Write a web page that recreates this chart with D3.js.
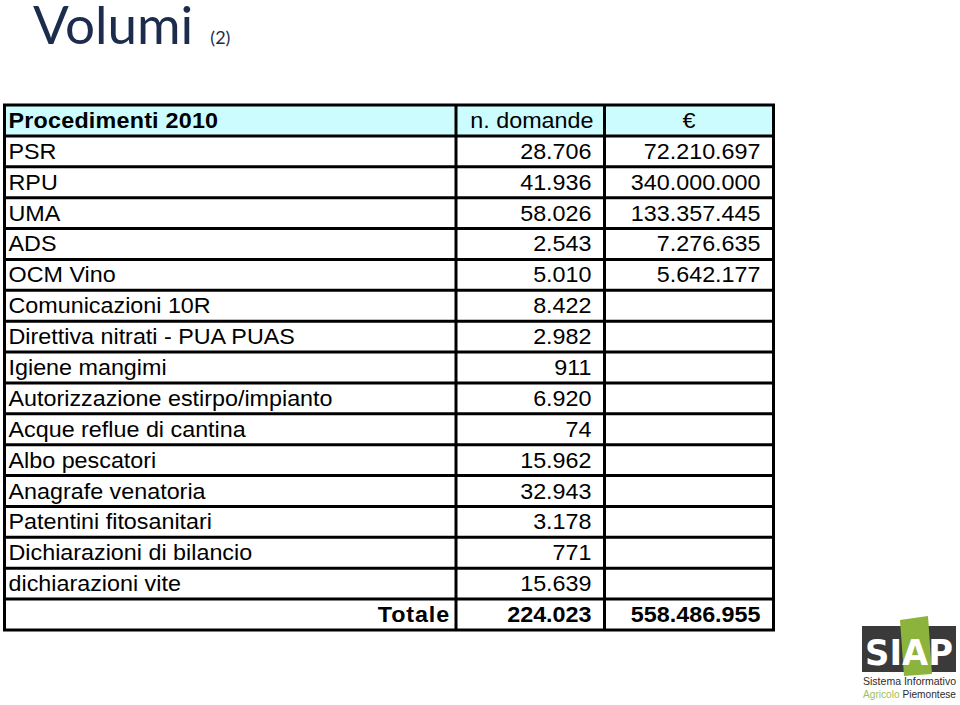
<!DOCTYPE html>
<html>
<head>
<meta charset="utf-8">
<script src="https://cdn.jsdelivr.net/npm/d3@7"></script>
<style>
  html, body { margin: 0; padding: 0; background: #ffffff; }
  svg { display: block; }
</style>
</head>
<body>
<svg id="chart" width="960" height="705"></svg>
<script>
// ---------- data ----------
const titleText = "Volumi";
const titleSub = "(2)";
const headerLabels = ["Procedimenti 2010", "n. domande", "€"];
const categories = [
  "PSR", "RPU", "UMA", "ADS", "OCM Vino", "Comunicazioni 10R",
  "Direttiva nitrati - PUA PUAS", "Igiene mangimi",
  "Autorizzazione estirpo/impianto", "Acque reflue di cantina",
  "Albo pescatori", "Anagrafe venatoria", "Patentini fitosanitari",
  "Dichiarazioni di bilancio", "dichiarazioni vite"
];
const domande = [28706, 41936, 58026, 2543, 5010, 8422, 2982, 911, 6920, 74, 15962, 32943, 3178, 771, 15639];
const euro = [72210697, 340000000, 133357445, 7276635, 5642177, null, null, null, null, null, null, null, null, null, null];
const totalLabel = "Totale";
const totalDomande = 224023;
const totalEuro = 558486955;

// ---------- setup ----------
const svg = d3.select("#chart");
const it = d3.formatLocale({ decimal: ",", thousands: ".", grouping: [3], currency: ["€", ""] });
const fmt = it.format(",d");

// title
const title = svg.append("text")
  .attr("x", 33).attr("y", 44)
  .attr("font-family", "Lato, 'Open Sans', sans-serif")
  .attr("font-size", 53)
  .attr("fill", "#1c2c4c");
title.append("tspan").text(titleText);
title.append("tspan").attr("font-size", 18).attr("dx", 17).text(titleSub);

// rows: header + categories + total
const rowKeys = ["__header"].concat(categories).concat(["__total"]);
const y = d3.scaleBand().domain(rowKeys).range([105, 630]).padding(0);

// columns
const colKeys = ["name", "domande", "euro"];
const colEdges = d3.scaleOrdinal().domain(colKeys.concat(["end"])).range([4.5, 456, 604.5, 773.5]);
const colLeft = k => colEdges(k);
const colRight = k => colEdges(colKeys[colKeys.indexOf(k) + 1] || "end");

const tableFont = "'Liberation Sans', Arial, sans-serif";
const fs = 21.5;
const sx = 1.085;

// header background
svg.append("rect")
  .attr("x", colLeft("name")).attr("y", y("__header"))
  .attr("width", colRight("euro") - colLeft("name"))
  .attr("height", y.bandwidth())
  .attr("fill", "#ccfcfe");

const g = svg.append("g").attr("font-family", tableFont).attr("font-size", fs).attr("fill", "#000");

function cell(x, yy, txt, anchor, bold, ls) {
  const t = g.append("g").attr("transform", `translate(${x},${yy}) scale(${sx},1)`)
    .append("text").attr("text-anchor", anchor || "start").text(txt);
  if (bold) t.attr("font-weight", "bold");
  if (ls) t.attr("letter-spacing", ls);
  return t;
}
const base = k => y(k) + y.bandwidth() / 2 + 7.5;

// header texts
cell(colLeft("name") + 4, base("__header"), headerLabels[0], "start", true, 0.2);
cell(colRight("domande") - 11, base("__header"), headerLabels[1], "end");
cell((colLeft("euro") + colRight("euro")) / 2, base("__header"), headerLabels[2], "middle");

// body rows
categories.forEach((c, i) => {
  cell(colLeft("name") + 4, base(c), c, "start");
  cell(colRight("domande") - 13, base(c), fmt(domande[i]), "end");
  if (euro[i] != null) cell(colRight("euro") - 13, base(c), fmt(euro[i]), "end");
});

// total row
cell(colRight("name") - 6, base("__total"), totalLabel, "end", true, 0.8);
cell(colRight("domande") - 13, base("__total"), fmt(totalDomande), "end", true);
cell(colRight("euro") - 13, base("__total"), fmt(totalEuro), "end", true);

// grid lines
const lines = svg.append("g").attr("stroke", "#000").attr("stroke-width", 3);
const hPos = rowKeys.map(k => y(k)).concat([y.range()[1]]);
lines.selectAll("line.h").data(hPos).join("line").attr("class", "h")
  .attr("x1", colLeft("name") - 1.5).attr("x2", colRight("euro") + 1.5)
  .attr("y1", d => d).attr("y2", d => d);
const vEdges = ["name", "domande", "euro", "end"];
lines.selectAll("line.v").data(vEdges).join("line").attr("class", "v")
  .attr("x1", d => colEdges(d)).attr("x2", d => colEdges(d))
  .attr("y1", y.range()[0]).attr("y2", y.range()[1]);

// ---------- logo (SIAP) ----------
const logo = svg.append("g").attr("transform", "translate(862,616)");
logo.append("rect").attr("x", 0).attr("y", 10).attr("width", 94).attr("height", 46).attr("fill", "#3a3a3a");
logo.append("path").attr("d", "M38,4 L66,0 L70,58 L42,60 Z").attr("fill", "#8cb33c");
logo.append("text").attr("x", 3).attr("y", 49)
  .attr("font-family", "'DejaVu Sans', sans-serif").attr("font-weight", "bold")
  .attr("font-size", 36).attr("fill", "#ffffff")
  .attr("textLength", 88).attr("lengthAdjust", "spacingAndGlyphs")
  .text("SIAP");
const lt = svg.append("g").attr("font-family", "'Liberation Sans', sans-serif").attr("font-size", 11);
lt.append("text").attr("x", 863).attr("y", 685).attr("fill", "#2b2b2b")
  .attr("textLength", 93).attr("lengthAdjust", "spacingAndGlyphs").text("Sistema Informativo");
const lt2 = lt.append("text").attr("x", 863).attr("y", 698)
  .attr("textLength", 93).attr("lengthAdjust", "spacingAndGlyphs");
lt2.append("tspan").attr("fill", "#9cbf5a").text("Agricolo ");
lt2.append("tspan").attr("fill", "#2b2b2b").text("Piemontese");
</script>
</body>
</html>
